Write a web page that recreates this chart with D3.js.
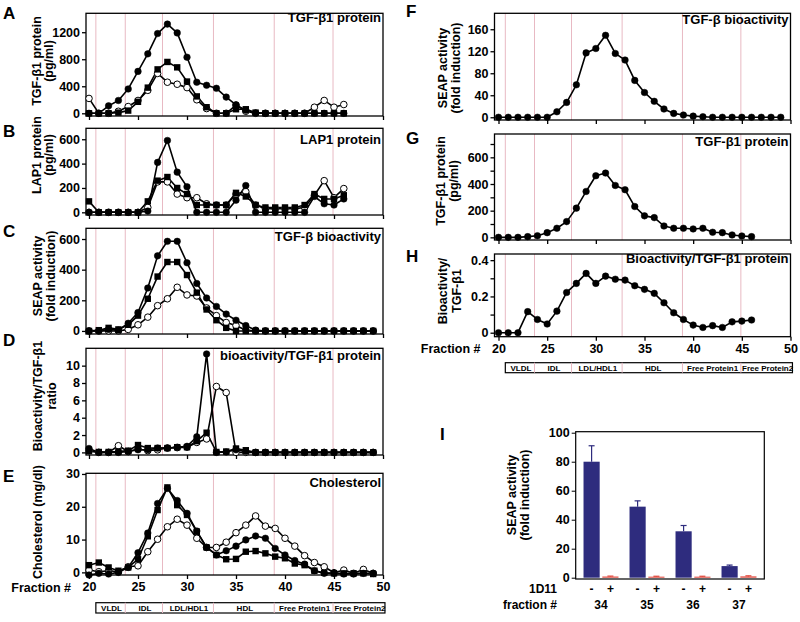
<!DOCTYPE html>
<html><head><meta charset="utf-8">
<script src="https://cdn.jsdelivr.net/npm/d3@7"></script>
<style>
body{margin:0;background:#fff;}
svg text{font-family:"Liberation Sans",Arial,Helvetica,sans-serif;font-weight:bold;fill:#000;}
</style></head><body>
<svg id="c" width="800" height="622"></svg>
<script>
// ---------- DATA ----------
const fr27 = [20,21,22,23,24,25,26,27,28,29,30,31,32,33,34,35,36,37,38,39,40,41,42,43,44,45,46];
const fr30 = [20,21,22,23,24,25,26,27,28,29,30,31,32,33,34,35,36,37,38,39,40,41,42,43,44,45,46,47,48,49];
const xTickValues = [20,25,30,35,40,45,50];
const regionBounds = [20.7,23.7,27.5,32.7,38.9,44.9];
const regionNames = ["VLDL","IDL","LDL/HDL1","HDL","Free Protein1","Free Protein2"];

// A: TGF-b1 protein (pg/ml)
const aFilled = [0,0,110,190,360,620,880,1180,1320,1190,830,460,415,370,240,125,45,5,0,0,0,0,0,0,0,0,0];
const aSquare = [0,0,0,10,40,170,380,650,760,680,470,250,90,0,0,60,60,10,0,0,0,0,0,0,0,0,0];
const aOpen   = [220,0,0,30,100,190,340,590,460,430,380,200,70,0,0,120,30,0,0,0,0,0,0,90,190,90,130];
// B: LAP1 protein (pg/ml)
const bFilled = [0,0,0,0,0,0,10,410,590,330,210,0,0,0,0,100,220,0,0,0,0,0,0,130,70,60,110];
const bSquare = [90,0,0,0,0,0,90,260,290,200,150,60,60,60,60,160,130,60,40,40,40,40,60,150,110,110,140];
const bOpen   = [0,0,0,0,0,0,40,250,250,150,120,120,70,60,60,150,170,60,30,30,30,30,40,140,260,120,195];
// C: SEAP activity (fold induction)
const cFilled = [0,0,10,5,50,120,280,490,585,585,445,310,215,160,110,70,35,5,0,0,0,0,0,0,0,0,0,0,0,0];
const cSquare = [0,5,20,10,40,100,210,355,450,450,365,250,140,70,20,0,0,0,0,0,0,0,0,0,0,0,0,0,0,0];
const cOpen   = [0,0,0,0,10,40,90,165,210,285,235,228,150,100,55,35,5,0,0,0,0,0,0,0,0,0,0,0,0,0];
// D: bioactivity / TGF-b1 ratio
const dFilled = [0.45,0,0,0,0.1,0.3,0.3,0.5,0.5,0.6,0.7,1.8,11.35,0,0.05,0.3,0.1,0,0,0,0,0,0,0,0,0,0,0,0,0];
const dSquare = [0.15,0.05,0.05,0.1,0.2,0.85,0.5,0.5,0.5,0.6,0.6,1.3,2.27,0.05,0.1,0.45,0.25,0,0,0,0,0,0,0,0,0,0,0,0,0];
const dOpen   = [0.2,0,0,0.77,0.1,0.4,0.2,0.3,0.5,0.55,0.6,1.15,1.55,7.6,6.9,0,0,0,0,0,0,0,0,0,0,0,0,0,0,0];
// E: Cholesterol (mg/dl)
const eFilled = [-0.8,-0.3,-0.5,0,1.5,6,12,21,25.6,21.9,18,12.6,7.6,5.3,6.6,8,9.9,11.1,10.4,7.3,5.3,3.6,2.5,0.5,-0.3,-0.3,-0.5,-0.5,-0.3,-0.3];
const eSquare = [2.2,3.0,1.5,0.5,1.5,4,11,19,25.9,20.5,17.5,12.4,7.6,5.3,4,4.1,6.3,6.5,5.8,4.8,4.3,2.7,2.2,0.5,-0.1,-0.3,-0.3,-0.3,-0.3,-0.5];
const eOpen   = [0.7,0.2,0.5,0.2,1.7,2,6.3,10.1,13.9,16.2,14.4,10.4,7.6,7.6,9.2,12.1,14.4,17.2,14.1,13.4,10.4,8,5.1,3,1.7,-0.1,0.7,-0.3,0.9,-0.3];
// F: SEAP activity (fold induction)
const fFilled = [0,0,0,0,0,0,10,27,59,117,125,149,116,104,67,45,29,15,7,4,2,1,0,0,0,0,0,0,0,0];
// G: TGF-b1 protein (pg/ml)
const gFilled = [0,0,0,5,12,35,68,118,219,344,462,482,389,357,231,161,148,85,68,68,63,68,38,35,18,10,5];
// H: bioactivity / TGF-b1
const hFilled = [0,0,0,0.116,0.073,0.048,0.119,0.222,0.272,0.327,0.272,0.312,0.295,0.29,0.259,0.239,0.217,0.165,0.11,0.073,0.042,0.029,0.039,0.029,0.06,0.064,0.07];
// I: SEAP activity with/without 1D11
const iFractions = ["34","35","36","37"];
const iMinus = [80,49,32,8];
const iMinusErr = [11,4,4,0.7];
const iPlus = [0.8,0.7,0.7,0.9];
const iPlusErr = [0.3,0.3,0.3,0.4];

// ---------- DRAW ----------
const svg = d3.select("#c");
const PINK = "#e8b9c3";

function panel(cfg){
  const g = svg.append("g");
  const x = d3.scaleLinear().domain([20,50]).range([cfg.x0, cfg.x1]);
  const y = d3.scaleLinear().domain(cfg.yDomain).range([cfg.bottom, cfg.top]);
  g.selectAll("line.reg").data(regionBounds).join("line")
    .attr("x1", d=>x(d)).attr("x2", d=>x(d))
    .attr("y1", cfg.top).attr("y2", cfg.bottom)
    .attr("stroke", PINK).attr("stroke-width", 1);
  g.append("rect").attr("x", cfg.left).attr("y", cfg.top)
    .attr("width", cfg.x1 - cfg.left).attr("height", cfg.bottom - cfg.top)
    .attr("fill","none").attr("stroke","#000").attr("stroke-width",1.3);
  const xa = d3.axisBottom(x).tickValues(xTickValues).tickSize(4).tickSizeOuter(0).tickPadding(3)
    .tickFormat(cfg.xLabels ? d3.format("d") : () => "");
  const xg = g.append("g").attr("transform", `translate(0,${cfg.bottom})`).call(xa);
  xg.select(".domain").remove();
  xg.selectAll("line").attr("stroke-width",1.3);
  xg.selectAll("text").style("font-size","12.5px");
  const ya = d3.axisLeft(y).tickValues(cfg.yTicks).tickSize(4).tickSizeOuter(0).tickPadding(2)
    .tickFormat(d => cfg.yLabelTicks.includes(d) ? d3.format(cfg.yFmt || "d")(d) : "");
  const yg = g.append("g").attr("transform", `translate(${cfg.left},0)`).call(ya);
  yg.select(".domain").remove();
  yg.selectAll("line").attr("stroke-width",1.3);
  yg.selectAll("text").style("font-size","12.5px");
  // series lines
  const line = d3.line().x((d,i)=>x(cfg.fr[i])).y(d=>y(d));
  cfg.series.forEach(s=>{
    g.append("path").attr("d", line(s.v)).attr("fill","none")
      .attr("stroke","#000").attr("stroke-width",1.6).attr("stroke-linejoin","round");
  });
  ["open","filled","square"].forEach(type=>{
    cfg.series.filter(s=>s.type===type).forEach(s=>{
      const pts = s.v.map((v,i)=>({f:cfg.fr[i], v}));
      if(type==="square"){
        g.selectAll(null).data(pts).join("rect")
          .attr("x", d=>x(d.f)-3.2).attr("y", d=>y(d.v)-3.2)
          .attr("width",6.4).attr("height",6.4).attr("fill","#000");
      } else {
        g.selectAll(null).data(pts).join("circle")
          .attr("cx", d=>x(d.f)).attr("cy", d=>y(d.v)).attr("r", 3.3)
          .attr("fill", type==="open" ? "#fff" : "#000")
          .attr("stroke","#000").attr("stroke-width", type==="open"?1:0.5);
      }
    });
  });
  // title
  g.append("text").attr("x", cfg.x1 - 2).attr("y", cfg.titleY).attr("text-anchor","end")
    .style("font-size","13px").text(cfg.title);
  // panel letter
  g.append("text").attr("x", cfg.letterX).attr("y", cfg.letterY).style("font-size","17px").text(cfg.letter);
  // y label
  cfg.yLabel.forEach((t,i)=>{
    g.append("text").attr("transform", `translate(${cfg.yLabelX[i]},${cfg.yLabelCy}) rotate(-90)`)
      .attr("text-anchor","middle").attr("dominant-baseline","central")
      .style("font-size","12.5px").text(t);
  });
  if(cfg.xLabels){
    g.append("text").attr("x", cfg.x0 - 18).attr("y", cfg.bottom + 16.5).attr("text-anchor","end")
      .style("font-size","12.5px").text("Fraction #");
  }
  if(cfg.regionBar){
    const rb = cfg.regionBar;
    const edges = regionBounds.concat([50.2]);
    g.append("rect").attr("x", x(regionBounds[0])).attr("y", rb.y)
      .attr("width", x(50.2) - x(regionBounds[0])).attr("height", rb.h)
      .attr("fill","none").attr("stroke","#000").attr("stroke-width",1.2);
    g.selectAll(null).data(regionBounds.slice(1)).join("line")
      .attr("x1", d=>x(d)).attr("x2", d=>x(d)).attr("y1", rb.y).attr("y2", rb.y+rb.h)
      .attr("stroke", PINK).attr("stroke-width",1);
    g.selectAll(null).data(regionNames).join("text")
      .attr("x", (d,i)=> (x(edges[i]) + x(edges[i+1]))/2 + 1)
      .attr("y", rb.y + rb.h/2 + 3).attr("text-anchor","middle")
      .style("font-size","8px").text(d=>d);
  }
}

const L = {left:86, x0:89, x1:383, letterX:3};
const R = {left:494.5, x0:498.5, x1:790.5, letterX:406};

panel({...L, top:13.3, bottom:116, yDomain:[-40,1480], yTicks:[0,400,800,1200], yLabelTicks:[0,400,800,1200],
  fr:fr27, series:[{v:aFilled,type:"filled"},{v:aSquare,type:"square"},{v:aOpen,type:"open"}],
  title:"TGF-β1 protein", titleY:22.3, letter:"A", letterY:18.5,
  yLabel:["TGF-β1 protein","(pg/ml)"], yLabelX:[37,49], yLabelCy:61});
panel({...L, top:128.3, bottom:215, yDomain:[-22,690], yTicks:[0,200,400,600], yLabelTicks:[0,200,400,600],
  fr:fr27, series:[{v:bFilled,type:"filled"},{v:bSquare,type:"square"},{v:bOpen,type:"open"}],
  title:"LAP1 protein", titleY:143.6, letter:"B", letterY:137,
  yLabel:["LAP1 protein","(pg/ml)"], yLabelX:[37,49], yLabelCy:155});
panel({...L, top:228.3, bottom:334, yDomain:[-20,670], yTicks:[0,200,400,600], yLabelTicks:[0,200,400,600],
  fr:fr30, series:[{v:cFilled,type:"filled"},{v:cSquare,type:"square"},{v:cOpen,type:"open"}],
  title:"TGF-β bioactivity", titleY:241, letter:"C", letterY:237,
  yLabel:["SEAP activity","(fold induction)"], yLabelX:[37.5,51], yLabelCy:276});
panel({...L, top:348.3, bottom:455, yDomain:[-0.3,12], yTicks:[0,2,4,6,8,10], yLabelTicks:[0,2,4,6,8,10],
  fr:fr30, series:[{v:dFilled,type:"filled"},{v:dSquare,type:"square"},{v:dOpen,type:"open"}],
  title:"bioactivity/TGF-β1 protein", titleY:359.6, letter:"D", letterY:346,
  yLabel:["Bioactivity/TGF-β1","ratio"], yLabelX:[37.5,51.5], yLabelCy:396});
panel({...L, top:473.3, bottom:575, yDomain:[-0.8,30.2], yTicks:[0,10,20,30], yLabelTicks:[0,10,20,30],
  fr:fr30, series:[{v:eFilled,type:"filled"},{v:eSquare,type:"square"},{v:eOpen,type:"open"}],
  title:"Cholesterol", titleY:487.3, letter:"E", letterY:482, xLabels:true,
  regionBar:{y:602.7, h:10.3},
  yLabel:["Cholesterol (mg/dl)"], yLabelX:[38], yLabelCy:522});
panel({...R, top:13.3, bottom:120, yDomain:[-5,189], yTicks:[0,40,80,120,160], yLabelTicks:[0,40,80,120,160],
  fr:fr30, series:[{v:fFilled,type:"filled"}],
  title:"TGF-β bioactivity", titleY:24.3, letter:"F", letterY:17,
  yLabel:["SEAP activity","(fold induction)"], yLabelX:[442.5,456], yLabelCy:68});
panel({...R, top:134, bottom:240, yDomain:[-20,775], yTicks:[0,100,200,300,400,500,600,700], yLabelTicks:[0,200,400,600],
  fr:fr27, series:[{v:gFilled,type:"filled"}],
  title:"TGF-β1 protein", titleY:146, letter:"G", letterY:143.5,
  yLabel:["TGF-β1 protein","(pg/ml)"], yLabelX:[441,454], yLabelCy:181});
panel({...R, top:254, bottom:336.7, yDomain:[-0.022,0.434], yTicks:[0,0.1,0.2,0.3,0.4], yLabelTicks:[0,0.2,0.4], yFmt:"~g",
  fr:fr27, series:[{v:hFilled,type:"filled"}],
  title:"Bioactivity/TGF-β1 protein", titleY:263.3, letter:"H", letterY:262, xLabels:true,
  regionBar:{y:362.7, h:10},
  yLabel:["Bioactivity/","TGF-β1"], yLabelX:[443,457], yLabelCy:291});

// ---------- Panel I ----------
(function(){
  const g = svg.append("g");
  const left=575.7, right=764.3, top=431.7, bottom=579;
  const y = d3.scaleLinear().domain([-0.9,100.7]).range([bottom, top]);
  const x0 = d3.scaleBand().domain(iFractions).range([left, right]).paddingInner(0.24).paddingOuter(0.17);
  const x1 = d3.scaleBand().domain(["-","+"]).range([0, x0.bandwidth()]).paddingInner(0.14);
  g.append("rect").attr("x",left).attr("y",top).attr("width",right-left).attr("height",bottom-top)
    .attr("fill","none").attr("stroke","#000").attr("stroke-width",1.2);
  const yg = g.append("g").attr("transform",`translate(${left},0)`)
    .call(d3.axisLeft(y).tickValues([0,20,40,60,80,100]).tickSize(4).tickPadding(2).tickFormat(d3.format("d")));
  yg.select(".domain").remove();
  yg.selectAll("text").style("font-size","12.5px");
  const rows = iFractions.map((f,i)=>[
    {f, k:"-", v:iMinus[i], e:iMinusErr[i], c:"#2e2c7e"},
    {f, k:"+", v:iPlus[i], e:iPlusErr[i], c:"#e0463a"}]).flat();
  g.selectAll(null).data(rows).join("line")
    .attr("x1", d=>x0(d.f)+x1(d.k)+x1.bandwidth()/2).attr("x2", d=>x0(d.f)+x1(d.k)+x1.bandwidth()/2)
    .attr("y1", d=>y(d.v)).attr("y2", d=>y(d.v+d.e)).attr("stroke", d=>d.c).attr("stroke-width",1.2);
  g.selectAll(null).data(rows).join("line")
    .attr("x1", d=>x0(d.f)+x1(d.k)+x1.bandwidth()/2-3).attr("x2", d=>x0(d.f)+x1(d.k)+x1.bandwidth()/2+3)
    .attr("y1", d=>y(d.v+d.e)).attr("y2", d=>y(d.v+d.e)).attr("stroke", d=>d.c).attr("stroke-width",1.2);
  g.selectAll(null).data(rows).join("rect")
    .attr("x", d=>x0(d.f)+x1(d.k)).attr("width", x1.bandwidth())
    .attr("y", d=>y(d.v)).attr("height", d=>y(0)-y(d.v)).attr("fill", d=>d.c);
  g.selectAll(null).data(rows).join("text")
    .attr("x", d=>x0(d.f)+x1(d.k)+x1.bandwidth()/2).attr("y", 593).attr("text-anchor","middle")
    .style("font-size","12px").text(d=>d.k);
  g.selectAll(null).data(iFractions).join("text")
    .attr("x", d=>x0(d)+x0.bandwidth()/2).attr("y", 609).attr("text-anchor","middle")
    .style("font-size","12px").text(d=>d);
  g.append("text").attr("x",557).attr("y",593).attr("text-anchor","end").style("font-size","12px").text("1D11");
  g.append("text").attr("x",557).attr("y",609).attr("text-anchor","end").style("font-size","12px").text("fraction #");
  g.append("text").attr("x",440).attr("y",440).style("font-size","17px").text("I");
  ["SEAP activity","(fold induction)"].forEach((t,i)=>{
    g.append("text").attr("transform",`translate(${[512,525][i]},495) rotate(-90)`)
      .attr("text-anchor","middle").attr("dominant-baseline","central").style("font-size","12.5px").text(t);
  });
})();
</script>
</body></html>
